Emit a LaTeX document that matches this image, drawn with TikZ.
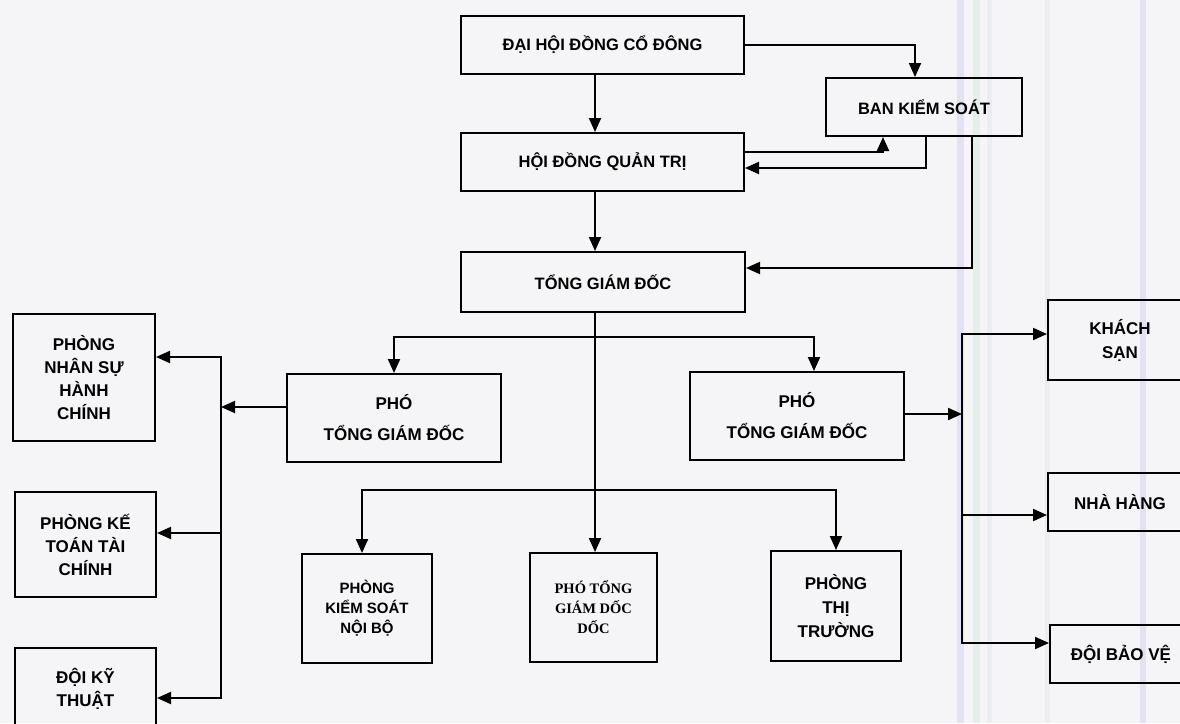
\documentclass[tikz,border=0pt]{standalone}
\usepackage{fontspec}
\setmainfont{Liberation Sans}
\newfontfamily\serifbox{Liberation Serif}
\usetikzlibrary{arrows.meta, positioning}
\definecolor{paper}{RGB}{245,245,248}
\definecolor{lav}{RGB}{226,226,244}
\definecolor{mint}{RGB}{226,240,233}
\definecolor{haze}{RGB}{236,236,241}
\tikzstyle{arrow}   = [line width=2pt, -{Triangle[length=14pt,width=12pt]}]
\tikzstyle{edge}    = [line width=2pt]
\tikzstyle{box}     = [draw, line width=2pt, inner sep=0pt, align=center, font=\bfseries\fontsize{17}{23}\selectfont]
\tikzstyle{topbox}  = [box, minimum height=58pt, font=\bfseries\fontsize{16.5}{20}\selectfont]
\tikzstyle{vicebox} = [box, minimum width=214pt, minimum height=88pt, font=\bfseries\fontsize{17}{31}\selectfont]
\tikzstyle{unitbox} = [box, minimum width=141pt]
\tikzstyle{deptbox} = [box, minimum width=130pt, minimum height=109pt]

\begin{document}
\begin{tikzpicture}[x=1pt,y=-1pt]

\useasboundingbox (0,0) rectangle (1180,723);
\fill[paper] (0,0) rectangle (1180,723);
\fill[lav]  (957,0) rectangle (964,723);
\fill[mint] (973,0) rectangle (980,723);
\fill[haze] (987,0) rectangle (992,723);
\fill[haze] (1045,0) rectangle (1050,723);
\fill[lav]  (1140,0) rectangle (1146,723);

\node[topbox, minimum width=283pt] (dhdcd) at (602.5,45)  {ĐẠI HỘI ĐỒNG CỔ ĐÔNG};
\node[topbox, minimum width=196pt] (bks)   at (924,107)   {BAN KIỂM SOÁT};
\node[topbox, minimum width=283pt] (hdqt)  at (602.5,162) {HỘI ĐỒNG QUẢN TRỊ};
\node[topbox, minimum width=284pt, minimum height=60pt] (tgd) at (603,282) {TỔNG GIÁM ĐỐC};

\node[vicebox] (ptgdl) at (394,418) {PHÓ\\TỔNG GIÁM ĐỐC};
\node[vicebox] (ptgdr) at (797,416) {PHÓ\\TỔNG GIÁM ĐỐC};

\node[unitbox, minimum width=142pt, minimum height=127pt] (pnshc) at (84,377.5) {PHÒNG\\NHÂN SỰ\\HÀNH\\CHÍNH};
\node[unitbox, minimum height=105pt] (pkttc) at (85.5,544.5) {PHÒNG KẾ\\TOÁN TÀI\\CHÍNH};
\node[unitbox, minimum height=82pt]  (dkt)   at (85.5,689)   {ĐỘI KỸ\\THUẬT};

\node[deptbox, font=\bfseries\fontsize{15}{20}\selectfont] (pksnb) at (367,608.5) {PHÒNG\\KIỂM SOÁT\\NỘI BỘ};
\node[deptbox, minimum width=127pt, font=\serifbox\bfseries\fontsize{14.5}{20}\selectfont] (ptgdd) at (593.5,607.5) {PHÓ TỔNG\\GIÁM DỐC\\DỐC};
\node[deptbox, minimum height=110pt, font=\bfseries\fontsize{17}{24}\selectfont] (ptt) at (836,606) {PHÒNG\\THỊ\\TRƯỜNG};

\node[unitbox, minimum width=144pt, minimum height=80pt, font=\bfseries\fontsize{17}{24}\selectfont] (ks) at (1120,340) {KHÁCH\\SẠN};
\node[unitbox, minimum width=144pt, minimum height=58pt] (nh)  at (1120,502) {NHÀ HÀNG};
\node[unitbox, minimum width=142pt, minimum height=58pt] (dbv) at (1121,654) {ĐỘI BẢO VỆ};

\coordinate (b1)   at (595,337);
\coordinate (b2)   at (595,490);
\coordinate (lbus) at (221,407);
\coordinate (rbus) at (962,414);

% upper part
\draw[arrow] ([xshift=-7.5pt]dhdcd.south) -- ([xshift=-7.5pt]hdqt.north);
\draw[arrow] (dhdcd.east) -| ([xshift=-9pt]bks.north);
\draw[arrow] ([yshift=10pt]hdqt.east) -| ([xshift=-41pt]bks.south);
\draw[arrow] ([xshift=2pt]bks.south) |- ([yshift=-6pt]hdqt.east);
\draw[arrow] ([xshift=-7.5pt]hdqt.south) -- ([xshift=-8pt]tgd.north);
\draw[arrow] ([xshift=48pt]bks.south) |- ([yshift=14pt]tgd.east);

% tong giam doc down
\draw[arrow] ([xshift=-8pt]tgd.south) -- ([xshift=1.5pt]ptgdd.north);
\draw[arrow] (b1) -| (ptgdl.north);
\draw[arrow] (b1) -| ([xshift=17pt]ptgdr.north);
\draw[arrow] (b2) -| ([xshift=-5pt]pksnb.north);
\draw[arrow] (b2) -| (ptt.north);

% left side
\draw[arrow] ([yshift=11pt]ptgdl.west) -- (lbus);
\draw[arrow] (lbus) |- ([yshift=20.5pt]pnshc.east);
\draw[arrow] (lbus) |- ([yshift=11.5pt]pkttc.east);
\draw[arrow] (lbus) |- ([yshift=-9pt]dkt.east);

% right side
\draw[arrow] ([yshift=2pt]ptgdr.east) -- (rbus);
\draw[arrow] (rbus) |- ([yshift=6pt]ks.west);
\draw[arrow] (rbus) |- ([yshift=-13pt]nh.west);
\draw[arrow] (rbus) |- ([yshift=11pt]dbv.west);

\end{tikzpicture}
\end{document}
